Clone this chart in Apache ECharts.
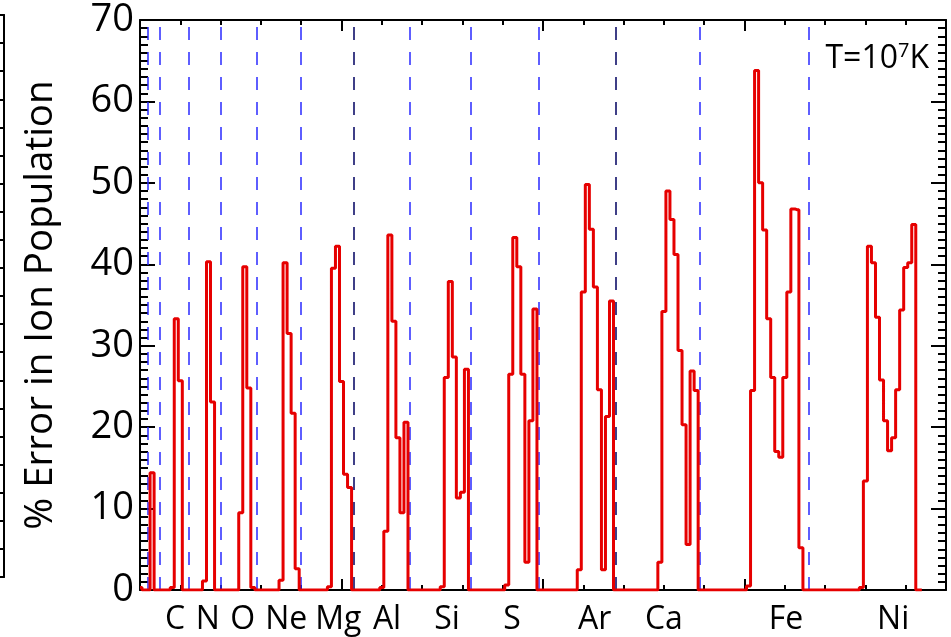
<!DOCTYPE html>
<html><head><meta charset="utf-8">
<script src="https://cdn.jsdelivr.net/npm/echarts@6/dist/echarts.min.js"></script>
<style>html,body{margin:0;padding:0;background:#fff}#c{width:951px;height:637px}</style>
</head><body><div id="c"></div>
<script>
// Elements in order along the x axis (one bin per ion stage)
const elements = ['H','He','C','N','O','Ne','Mg','Al','Si','S','Ar','Ca','Fe','Ni'];
// % error in ion population per ion stage, at T = 1e7 K
const errH  = [0.3, 0];
const errHe = [0, 14.4, 0];
const errC  = [0, 0, 0, 0.3, 33.3, 25.7, 0];
const errN  = [0, 0, 0, 0, 1.1, 40.3, 23.1, 0];
const errO  = [0, 0, 0, 0, 0, 9.5, 39.7, 24.8, 0.3];
const errNe = [0, 0, 0, 0, 0, 0, 1.2, 40.2, 31.5, 21.7, 2.6];
const errMg = [0, 0, 0, 0, 0, 0, 0, 0.4, 39.5, 42.2, 25.6, 14.2, 12.6];
const errAl = [0, 0, 0, 0, 0, 0, 0, 0.3, 7.2, 43.6, 33.0, 18.7, 9.5, 20.6];
const errSi = [0, 0, 0, 0, 0, 0, 0, 0, 0.4, 26.1, 37.9, 28.6, 11.3, 12.0, 27.1];
const errS  = [0, 0, 0, 0, 0, 0, 0, 0, 0, 0.6, 26.5, 43.3, 39.7, 26.5, 3.4, 20.8, 34.5];
const errAr = [0, 0, 0, 0, 0, 0, 0, 0, 0, 0, 2.5, 36.6, 49.8, 44.3, 37.2, 24.6, 2.5, 21.3, 35.5];
const errCa = [0, 0, 0, 0, 0, 0, 0, 0, 0, 0, 0, 3.4, 34.2, 49.0, 45.5, 41.2, 29.4, 20.3, 5.6, 26.9, 24.5];
const errFe = [0, 0, 0, 0, 0, 0, 0, 0, 0, 0, 0, 0, 0.5, 24.5, 63.8, 50.0, 44.2, 33.3, 26.1, 17.0, 16.3, 26.1, 36.6, 46.8, 46.7, 5.2, 0];
const errNi = [0, 0, 0, 0, 0, 0, 0, 0, 0, 0, 0, 0, 0, 0.3, 13.4, 42.2, 40.2, 33.5, 25.8, 20.8, 17.1, 18.7, 24.6, 34.4, 39.6, 40.2, 44.9, 0, 0];
// Element name labels under the x axis and their positions (ion index units)
const labelNames = ['C','N','O','Ne','Mg','Al','Si','S','Ar','Ca','Fe','Ni'];
const labelPositions = [8.7, 16.8, 25.5, 36.3, 49.2, 61.3, 76.2, 92.3, 112.8, 130, 160.3, 186.9];
// Boundaries drawn darker (after Mg and after Ar)
const darkBoundaryAfter = ['Mg', 'Ar'];
// Axis ranges / ticks
const xMin = 0, xMax = 200, xInterval = 50;
const yMin = 0, yMax = 70, yInterval = 10;

const perElement = [errH, errHe, errC, errN, errO, errNe, errMg, errAl, errSi, errS, errAr, errCa, errFe, errNi];
const allErr = [].concat(...perElement);
const seriesData = allErr.map((v, i) => [i, v]);
const boundaries = [];
let cum = 0;
perElement.forEach((arr, k) => {
  cum += arr.length;
  if (k < perElement.length - 1) boundaries.push({ x: cum, dark: darkBoundaryAfter.includes(elements[k]) });
});

const FONT = 'Open Sans';
const GL = 140, GR = 5, GT = 20, GB = 47;
const GW = 951 - GL - GR, GH = 637 - GT - GB;
const chart = echarts.init(document.getElementById('c'));
const lineOn = { show: true, onZero: false, lineStyle: { color: '#000', width: 2 } };
const lineOff = { show: false, onZero: false };
const tickStyle = { color: '#000', width: 2 };
const noLabel = { show: false };
const noSplit = { show: false };

function xTickAxis(position, offset) {
  return { gridIndex: 0, type: 'value', min: xMin, max: xMax, interval: xInterval, position, offset,
    axisLine: lineOff, axisTick: { show: true, length: 11, lineStyle: tickStyle },
    minorTick: { show: true, splitNumber: 5, length: 5, lineStyle: tickStyle },
    axisLabel: noLabel, splitLine: noSplit };
}
function yTickAxis(position, offset) {
  return { gridIndex: 0, type: 'value', min: yMin, max: yMax, interval: yInterval, position, offset,
    axisLine: lineOff, axisTick: { show: true, length: 15, lineStyle: tickStyle },
    minorTick: { show: true, splitNumber: 10, length: 8, lineStyle: tickStyle },
    axisLabel: noLabel, splitLine: noSplit };
}

chart.setOption({
  animation: false,
  backgroundColor: '#fff',
  title: {
    text: '{a|T=10}{s|7}{a|K}',
    right: 17, top: 36,
    textStyle: { fontWeight: 'normal', rich: {
      a: { fontFamily: FONT, fontSize: 32, fontWeight: 'normal', color: '#000' },
      s: { fontFamily: FONT, fontSize: 20, fontWeight: 'normal', color: '#000', padding: [0, 0, 16, 0] }
    } }
  },
  grid: [
    { left: GL, right: GR, top: GT, bottom: GB, outerBoundsMode: 'none' },
    { left: 0, width: 4, top: 15, bottom: 60, outerBoundsMode: 'none' }
  ],
  xAxis: [
    { gridIndex: 0, type: 'value', min: xMin, max: xMax, interval: xInterval, position: 'bottom',
      axisLine: lineOn, axisTick: { show: false }, axisLabel: noLabel, splitLine: noSplit },
    xTickAxis('top', -GH),      // ticks on bottom edge, pointing up
    { gridIndex: 0, type: 'value', min: xMin, max: xMax, position: 'top',
      axisLine: lineOn, axisTick: { show: false }, axisLabel: noLabel, splitLine: noSplit },
    xTickAxis('bottom', -GH),   // ticks on top edge, pointing down
    { gridIndex: 0, type: 'value', min: xMin, max: xMax, position: 'bottom',
      axisLine: lineOff, axisTick: { show: false }, splitLine: noSplit,
      axisLabel: { show: true, customValues: labelPositions, margin: 14,
        formatter: (v) => { const i = labelPositions.indexOf(v); return i >= 0 ? labelNames[i] : ''; },
        fontFamily: FONT, fontSize: 32, color: '#000' } },
    { gridIndex: 1, type: 'value', min: 0, max: 1, position: 'bottom', axisLine: lineOn,
      axisTick: { show: false }, axisLabel: noLabel, splitLine: noSplit },
    { gridIndex: 1, type: 'value', min: 0, max: 1, position: 'top', axisLine: lineOn,
      axisTick: { show: false }, axisLabel: noLabel, splitLine: noSplit }
  ],
  yAxis: [
    { gridIndex: 0, type: 'value', min: yMin, max: yMax, interval: yInterval, position: 'left',
      axisLine: lineOn, axisTick: { show: false },
      axisLabel: { show: true, margin: 6, fontFamily: FONT, fontSize: 38, color: '#000' },
      splitLine: noSplit,
      name: '% Error in Ion Population', nameLocation: 'middle', nameGap: 79, nameRotate: 90,
      nameTextStyle: { fontFamily: FONT, fontSize: 38.5, color: '#000' } },
    yTickAxis('right', -GW),    // ticks on left edge, pointing right
    { gridIndex: 0, type: 'value', min: yMin, max: yMax, position: 'right',
      axisLine: lineOn, axisTick: { show: false }, axisLabel: noLabel, splitLine: noSplit },
    yTickAxis('left', -GW),     // ticks on right edge, pointing left
    { gridIndex: 1, type: 'value', min: 0, max: 20, interval: 1, position: 'left', offset: -4,
      axisLine: lineOn, axisTick: { show: true, length: 4, lineStyle: tickStyle },
      axisLabel: noLabel, splitLine: noSplit }
  ],
  series: [{
    type: 'line', xAxisIndex: 0, yAxisIndex: 0, data: seriesData, step: 'middle',
    showSymbol: false, symbol: 'none', lineStyle: { color: '#e60000', width: 3 }, z: 5,
    markLine: {
      silent: true, symbol: 'none', label: { show: false },
      lineStyle: { color: '#0000ff', width: 1.5, type: [13, 12] },
      data: boundaries.map(b => ({ xAxis: b.x, lineStyle: { color: b.dark ? '#000060' : '#2a2aff' } })), z: 3
    }
  }]
});
</script></body></html>
